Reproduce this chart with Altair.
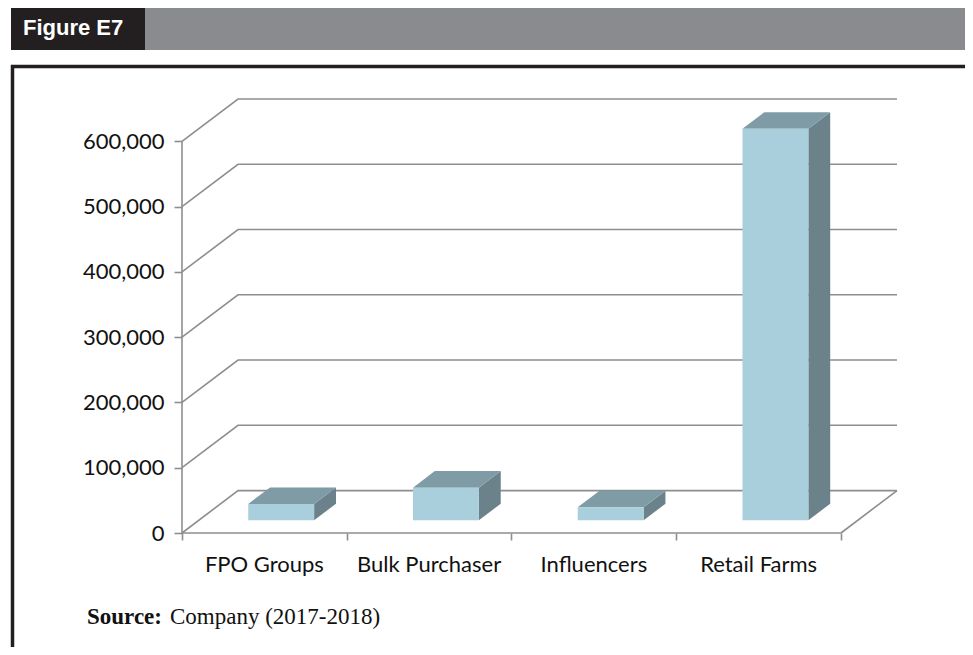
import altair as alt
import pandas as pd

# ---- data ----
categories = ["FPO Groups", "Bulk Purchaser", "Influencers", "Retail Farms"]
values = [25000, 50000, 20000, 600000]
y_ticks = [0, 100000, 200000, 300000, 400000, 500000, 600000]
x_ticks = [0, 1, 2, 3, 4]

# ---- pseudo-3D geometry (in scale units) ----
DX = 0.34          # depth offset along x (category units)
DY = 65000.0       # depth offset along y (value units)
XMAX = len(categories) + DX
YMAX = y_ticks[-1] + DY
BAR_W = 0.4
F0, F1 = 0.30, 0.69  # bar front / back depth fraction

GRID = "#8e8e8e"
FRONT = "#a9cedc"
TOP = "#7f9ba5"
SIDE = "#6c828b"
DARK = "#231f20"
AXIS_FONT = "Lato"

xs = alt.Scale(domain=[0, XMAX], nice=False, zero=False)
ys = alt.Scale(domain=[0, YMAX], nice=False, zero=False)
x_axis = alt.Axis(values=x_ticks, labels=False, domain=False, grid=False,
                  tickSize=7, tickColor=GRID, tickWidth=1.6, title=None)
y_axis = alt.Axis(values=y_ticks, format=",.0f", domain=False, grid=False,
                  tickSize=8, tickColor=GRID, tickWidth=1.6,
                  labelFont=AXIS_FONT, labelFontSize=22, labelColor="#111111",
                  labelPadding=10, title=None)


def X(field):
    return alt.X(field, scale=xs, axis=x_axis)


def Y(field):
    return alt.Y(field, scale=ys, axis=y_axis)


# gridlines: side wall + back wall
grid_rows = []
for v in y_ticks:
    grid_rows += [
        {"g": v, "o": 0, "x": 0, "y": v},
        {"g": v, "o": 1, "x": DX, "y": v + DY},
        {"g": v, "o": 2, "x": XMAX, "y": v + DY},
    ]
grid_df = pd.DataFrame(grid_rows)

frame_df = pd.DataFrame([
    {"x": 0, "y": 0, "x2": 0, "y2": y_ticks[-1]},
    {"x": 0, "y": 0, "x2": len(categories), "y2": 0},
    {"x": len(categories), "y": 0, "x2": len(categories) + DX, "y2": DY},
])

front_rows, top_rows, side_rows, lab_rows = [], [], [], []
d = (F1 - F0) * DX
dy = (F1 - F0) * DY
for i, (c, v) in enumerate(zip(categories, values)):
    x0 = i + 0.5 - BAR_W / 2 + F0 * DX
    x1 = i + 0.5 + BAR_W / 2 + F0 * DX
    yb = F0 * DY
    yt = v + F0 * DY
    front_rows.append({"id": c, "x": x0, "x2": x1, "y": yb, "y2": yt})
    top_rows += [
        {"id": c, "x": x0, "y": yt, "y2": yt},
        {"id": c, "x": x0 + d, "y": yt, "y2": yt + dy},
        {"id": c, "x": x1, "y": yt, "y2": yt + dy},
        {"id": c, "x": x1 + d, "y": yt + dy, "y2": yt + dy},
    ]
    side_rows += [
        {"id": c, "x": x1, "y": yb, "y2": yt},
        {"id": c, "x": x1 + d, "y": yb + dy, "y2": yt + dy},
    ]
    lab_rows.append({"x": i + 0.5, "y": 0, "name": c})

front_df = pd.DataFrame(front_rows)
top_df = pd.DataFrame(top_rows)
side_df = pd.DataFrame(side_rows)
lab_df = pd.DataFrame(lab_rows)
one = pd.DataFrame({"k": [0]})

grid = alt.Chart(grid_df).mark_line(color=GRID, strokeWidth=1.6).encode(
    x=X("x:Q"), y=Y("y:Q"), detail="g:N", order="o:Q",
)

frame = alt.Chart(frame_df).mark_rule(color=GRID, strokeWidth=1.6).encode(
    x=X("x:Q"), y=Y("y:Q"), x2="x2:Q", y2="y2:Q",
)

side = alt.Chart(side_df).mark_area(color=SIDE, opacity=1).encode(
    x=X("x:Q"), y=Y("y:Q"), y2="y2:Q", detail="id:N",
)
top = alt.Chart(top_df).mark_area(color=TOP, opacity=1).encode(
    x=X("x:Q"), y=Y("y:Q"), y2="y2:Q", detail="id:N",
)
front = alt.Chart(front_df).mark_rect(color=FRONT, opacity=1).encode(
    x=X("x:Q"), x2="x2:Q", y=Y("y:Q"), y2="y2:Q",
)

labels = alt.Chart(lab_df).mark_text(
    dy=39, baseline="alphabetic", align="center", font=AXIS_FONT, fontSize=22, color="#111111"
).encode(x=X("x:Q"), y=Y("y:Q"), text="name:N")

# ---- page decorations (header band, frame, source note) ----
hdr_dark = alt.Chart(one).mark_rect(color=DARK).encode(
    x=alt.value(-171), x2=alt.value(-37), y=alt.value(-96), y2=alt.value(-49))
hdr_gray = alt.Chart(one).mark_rect(color="#8a8b8f").encode(
    x=alt.value(-37), x2=alt.value(800), y=alt.value(-96), y2=alt.value(-49))
hdr_text = alt.Chart(one).mark_text(
    align="left", baseline="alphabetic", font="Liberation Sans", fontWeight="bold",
    fontSize=22, color="white").encode(
    x=alt.value(-159), y=alt.value(-64), text=alt.value("Figure E7"))
box_top = alt.Chart(one).mark_rule(color=DARK, strokeWidth=3.5).encode(
    x=alt.value(-171), x2=alt.value(800), y=alt.value(-32.5))
box_left = alt.Chart(one).mark_rule(color=DARK, strokeWidth=3.5).encode(
    x=alt.value(-169.5), y=alt.value(-34), y2=alt.value(560))
src_b = alt.Chart(one).mark_text(
    align="left", baseline="alphabetic", font="Liberation Serif", fontWeight="bold",
    fontSize=23, color="#111111").encode(
    x=alt.value(-95), y=alt.value(525), text=alt.value("Source:"))
src_r = alt.Chart(one).mark_text(
    align="left", baseline="alphabetic", font="Liberation Serif",
    fontSize=23, color="#111111").encode(
    x=alt.value(-12), y=alt.value(525), text=alt.value("Company (2017-2018)"))

chart = alt.layer(
    grid, frame, side, top, front, labels,
    hdr_dark, hdr_gray, hdr_text, box_top, box_left, src_b, src_r,
).properties(
    width=715, height=434,
    padding={"left": 174, "top": 91, "right": 68, "bottom": 114},
    autosize=alt.AutoSizeParams(type="none"),
    background="white",
).configure_view(stroke=None)

chart.save("out.html", embed_options={"renderer": "svg", "actions": False})
